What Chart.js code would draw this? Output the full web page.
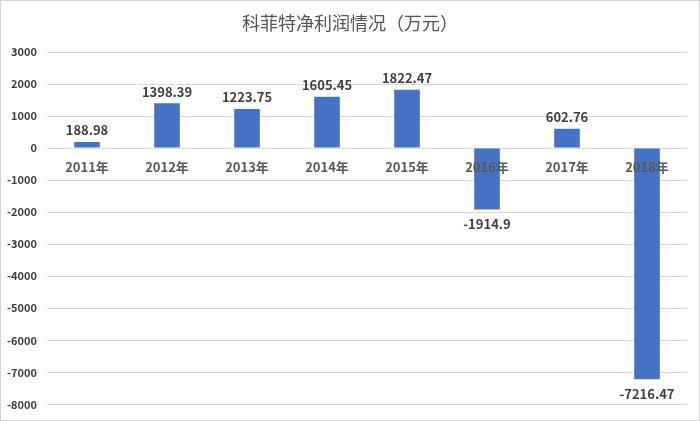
<!DOCTYPE html>
<html>
<head>
<meta charset="utf-8">
<script src="https://cdn.jsdelivr.net/npm/chart.js@4/dist/chart.umd.min.js"></script>
<style>
html,body{margin:0;padding:0;background:#fff}
#wrap{width:700px;height:421px;position:relative}
</style>
</head>
<body>
<div id="wrap"><canvas id="c"></canvas></div>
<script>
const categories = ['2011年','2012年','2013年','2014年','2015年','2016年','2017年','2018年'];
const netProfit = [188.98, 1398.39, 1223.75, 1605.45, 1822.47, -1914.9, 602.76, -7216.47];
const valueLabels = ['188.98','1398.39','1223.75','1605.45','1822.47','-1914.9','602.76','-7216.47'];
const yMin = -8000, yMax = 3000, yStep = 1000;
const titleText = '科菲特净利润情况（万元）';

const FONT = '"Noto Sans CJK SC", "Noto Sans", sans-serif';

const valueLabelPlugin = {
  id: 'valueLabels',
  afterDatasetsDraw(chart) {
    const ctx = chart.ctx;
    const meta = chart.getDatasetMeta(0);
    ctx.save();
    ctx.font = 'bold 13px ' + FONT;
    ctx.fillStyle = '#404040';
    ctx.textAlign = 'center';
    meta.data.forEach((bar, i) => {
      const v = netProfit[i];
      if (v >= 0) {
        ctx.textBaseline = 'bottom';
        ctx.fillText(valueLabels[i], bar.x, bar.y - 5);
      } else {
        ctx.textBaseline = 'top';
        ctx.fillText(valueLabels[i], bar.x, bar.y + 8);
      }
    });
    ctx.restore();
  }
};

const titlePlugin = {
  id: 'centerTitle',
  afterDraw(chart) {
    const ctx = chart.ctx;
    ctx.save();
    ctx.font = '18px ' + FONT;
    ctx.fillStyle = '#555555';
    ctx.textAlign = 'center';
    ctx.textBaseline = 'middle';
    ctx.fillText(titleText, chart.width / 2, 23);
    ctx.restore();
  }
};

const borderPlugin = {
  id: 'frame',
  beforeDraw(chart) {
    const ctx = chart.ctx;
    ctx.save();
    ctx.fillStyle = '#ffffff';
    ctx.fillRect(0, 0, chart.width, chart.height);
    ctx.strokeStyle = '#d6d6d6';
    ctx.lineWidth = 1;
    ctx.strokeRect(0.5, 0.5, chart.width - 1, chart.height - 1);
    ctx.restore();
  }
};

new Chart(document.getElementById('c'), {
  type: 'bar',
  data: {
    labels: categories,
    datasets: [{
      data: netProfit,
      backgroundColor: '#4472C4',
      borderWidth: 0,
      barPercentage: 0.32,
      categoryPercentage: 1.0
    }]
  },
  options: {
    responsive: true,
    maintainAspectRatio: false,
    animation: false,
    devicePixelRatio: 1,
    layout: { padding: { left: 0, right: 13, top: 52, bottom: 16 } },
    plugins: {
      legend: { display: false },
      tooltip: { enabled: false },
      title: { display: false }
    },
    scales: {
      x: {
        type: 'category',
        position: { y: 0 },
        grid: { display: false, drawTicks: false },
        border: { display: false },
        ticks: {
          z: 1,
          color: '#595959',
          font: { family: FONT, size: 13, weight: 'bold' },
          padding: 11,
          maxRotation: 0,
          autoSkip: false
        }
      },
      y: {
        min: yMin,
        max: yMax,
        afterFit(scale) { scale.width = 47; },
        grid: { color: '#d9d9d9', drawTicks: false },
        border: { display: false },
        ticks: {
          stepSize: yStep,
          color: '#404040',
          font: { family: FONT, size: 11, weight: 'bold' },
          padding: 10,
          callback: (v) => String(v)
        }
      }
    }
  },
  plugins: [borderPlugin, valueLabelPlugin, titlePlugin]
});
</script>
</body>
</html>
